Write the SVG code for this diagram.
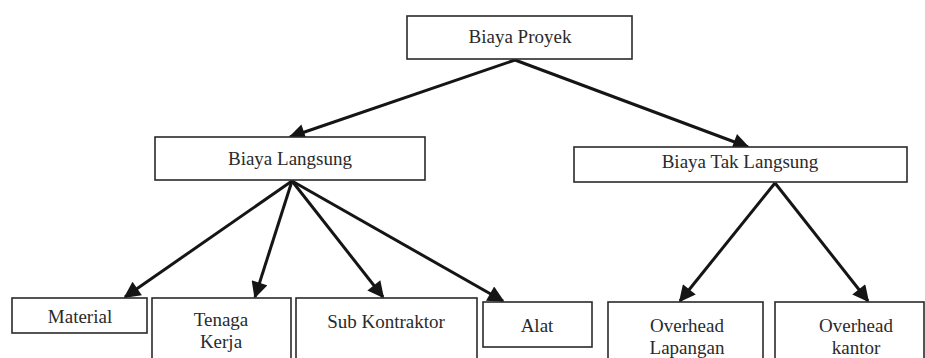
<svg xmlns="http://www.w3.org/2000/svg" width="925" height="358" viewBox="0 0 925 358">
<style>
.box{fill:#fff;stroke:#2a2a2a;stroke-width:1.6}
.t{font-family:"Liberation Serif","Times New Roman",serif;font-size:19px;fill:#2a2a2a;text-anchor:middle}
.c{stroke:#151515;stroke-width:3;fill:none}
</style>
<defs>
<marker id="ah" viewBox="0 0 10 10" refX="9" refY="5" markerWidth="6" markerHeight="5.5" markerUnits="strokeWidth" orient="auto">
<path d="M0,0 L10,5 L0,10 z" fill="#151515"/>
</marker>
</defs>
<rect width="925" height="358" fill="#fff"/>
<g id="connectors">
<line class="c" x1="515" y1="60" x2="290" y2="137" marker-end="url(#ah)"/>
<line class="c" x1="515" y1="60" x2="748" y2="147" marker-end="url(#ah)"/>
<line class="c" x1="292" y1="181" x2="125" y2="297" marker-end="url(#ah)"/>
<line class="c" x1="292" y1="181" x2="255" y2="297" marker-end="url(#ah)"/>
<line class="c" x1="292" y1="181" x2="383" y2="297" marker-end="url(#ah)"/>
<line class="c" x1="292" y1="181" x2="503" y2="301" marker-end="url(#ah)"/>
<line class="c" x1="775" y1="183" x2="680" y2="301" marker-end="url(#ah)"/>
<line class="c" x1="775" y1="183" x2="868" y2="301" marker-end="url(#ah)"/>
</g>
<g id="biaya-proyek"><rect class="box" x="407" y="16" width="225" height="43"/><text class="t" x="520" y="43">Biaya Proyek</text></g>
<g id="biaya-langsung"><rect class="box" x="155" y="137" width="270" height="43"/><text class="t" x="290" y="165">Biaya Langsung</text></g>
<g id="biaya-tak-langsung"><rect class="box" x="574" y="147" width="333" height="35"/><text class="t" x="740" y="168">Biaya Tak Langsung</text></g>
<g id="material"><rect class="box" x="12" y="298" width="135" height="35"/><text class="t" x="80" y="323">Material</text></g>
<g id="tenaga-kerja"><rect class="box" x="152" y="298" width="139" height="66"/><text class="t" x="221" y="326">Tenaga</text><text class="t" x="221" y="348">Kerja</text></g>
<g id="sub-kontraktor"><rect class="box" x="296" y="298" width="181" height="66"/><text class="t" x="386" y="328">Sub Kontraktor</text></g>
<g id="alat"><rect class="box" x="483" y="302" width="109" height="45"/><text class="t" x="537" y="332">Alat</text></g>
<g id="overhead-lapangan"><rect class="box" x="608" y="302" width="155" height="66"/><text class="t" x="687" y="332">Overhead</text><text class="t" x="687" y="354">Lapangan</text></g>
<g id="overhead-kantor"><rect class="box" x="775" y="302" width="149" height="66"/><text class="t" x="856" y="332">Overhead</text><text class="t" x="856" y="354">kantor</text></g>
</svg>
